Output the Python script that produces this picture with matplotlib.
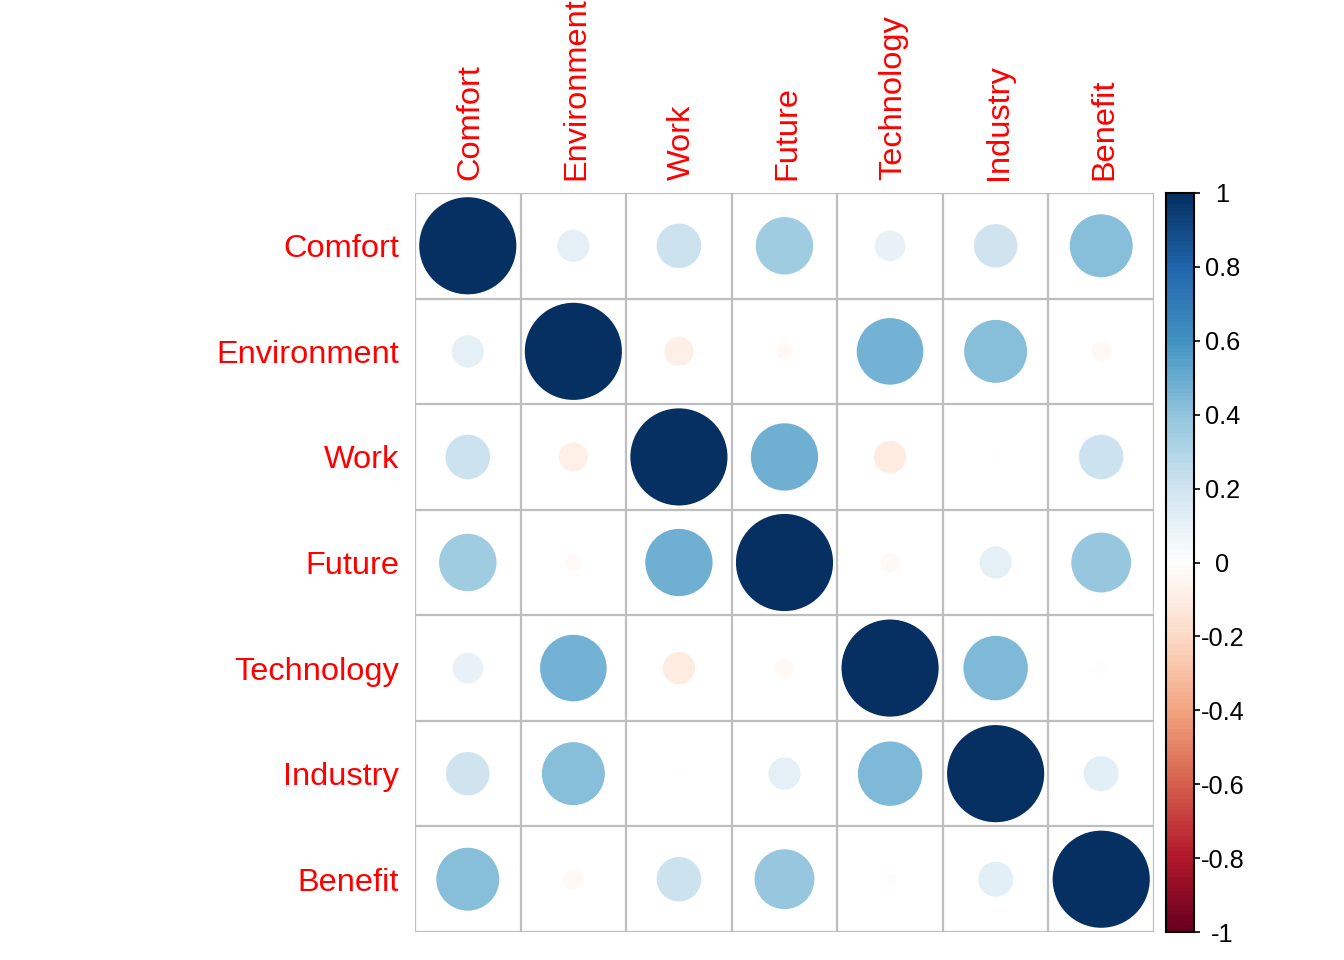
import numpy as np
import matplotlib
matplotlib.use("Agg")
import matplotlib.pyplot as plt
import matplotlib.transforms as mtransforms
from matplotlib.colors import LinearSegmentedColormap, ListedColormap, Normalize
from matplotlib.patches import Circle

plt.rcParams['font.family'] = ['Liberation Sans', 'DejaVu Sans']

variables = ["Comfort", "Environment", "Work", "Future", "Technology", "Industry", "Benefit"]

comfort     = [1.00, 0.11, 0.21, 0.35, 0.10, 0.20, 0.42]
environment = [0.11, 1.00, -0.09, -0.03, 0.47, 0.42, -0.04]
work        = [0.21, -0.09, 1.00, 0.48, -0.11, 0.005, 0.21]
future      = [0.35, -0.03, 0.48, 1.00, -0.04, 0.11, 0.38]
technology  = [0.10, 0.47, -0.11, -0.04, 1.00, 0.44, -0.015]
industry    = [0.20, 0.42, 0.005, 0.11, 0.44, 1.00, 0.13]
benefit     = [0.42, -0.04, 0.21, 0.38, -0.015, 0.13, 1.00]

corr = np.array([comfort, environment, work, future, technology, industry, benefit])

cbar_ticks = [-1, -0.8, -0.6, -0.4, -0.2, 0, 0.2, 0.4, 0.6, 0.8, 1]
cbar_labels = ["-1", "-0.8", "-0.6", "-0.4", "-0.2", "0", "0.2", "0.4", "0.6", "0.8", "1"]

base_cols = ["#67001F", "#B2182B", "#D6604D", "#F4A582", "#FDDBC7", "#FFFFFF",
             "#D1E5F0", "#92C5DE", "#4393C3", "#2166AC", "#053061"]
ramp = LinearSegmentedColormap.from_list("rdbu", base_cols, N=200)
cmap = ListedColormap(ramp(np.linspace(0, 1, 200)))
norm = Normalize(-1, 1)

W, H = 1344, 960
fig = plt.figure(figsize=(W / 100, H / 100), dpi=100)

gx0, gx1, gy0, gy1 = 415, 1154, 193, 932
ax = fig.add_axes([gx0 / W, (H - gy1) / H, (gx1 - gx0) / W, (gy1 - gy0) / H])
n = len(variables)
ax.set_xlim(0.5, n + 0.5)
ax.set_ylim(n + 0.5, 0.5)
ax.set_aspect('equal')

grid_col = "#BEBEBE"
for k in range(n + 1):
    ax.axvline(k + 0.5, color=grid_col, lw=1.6, zorder=1)
    ax.axhline(k + 0.5, color=grid_col, lw=1.6, zorder=1)

for i in range(n):
    for j in range(n):
        v = corr[i, j]
        r = 0.46 * np.sqrt(abs(v))
        ax.add_patch(Circle((j + 1, i + 1), r, facecolor=cmap(norm(v)),
                            edgecolor='none', zorder=2))

for s in ax.spines.values():
    s.set_visible(False)

ax.set_xticks(np.arange(1, n + 1))
ax.set_xticklabels(variables, rotation=90, color='red', fontsize=23.4)
ax.xaxis.tick_top()
ax.tick_params(axis='x', length=0, pad=9)
shift = mtransforms.ScaledTranslation(3 / 100, 0, fig.dpi_scale_trans)
for lab in ax.get_xticklabels():
    lab.set_transform(lab.get_transform() + shift)
ax.set_yticks(np.arange(1, n + 1))
ax.set_yticklabels(variables, color='red', fontsize=23.4)
ax.tick_params(axis='y', length=0, pad=11.5)

# colorbar
cx0, cx1 = 1166, 1194
cax = fig.add_axes([cx0 / W, (H - gy1) / H, (cx1 - cx0) / W, (gy1 - gy0) / H])
grad = np.linspace(-1, 1, 200).reshape(-1, 1)
cax.imshow(grad, cmap=cmap, norm=norm, aspect='auto', origin='lower',
           extent=[0, 1, -1, 1], interpolation='nearest')
cax.set_xlim(0, 1)
cax.set_ylim(-1, 1)
cax.set_xticks([])
cax.yaxis.tick_right()
cax.set_yticks(cbar_ticks)
cax.set_yticklabels(cbar_labels, fontsize=18.3)
cax.tick_params(axis='y', length=4, width=1.2, pad=16.5, color='black')
for lab in cax.get_yticklabels():
    lab.set_horizontalalignment('center')
for s in cax.spines.values():
    s.set_linewidth(1.5)
    s.set_color('black')

fig.savefig("out.png", dpi=100, facecolor='white')
